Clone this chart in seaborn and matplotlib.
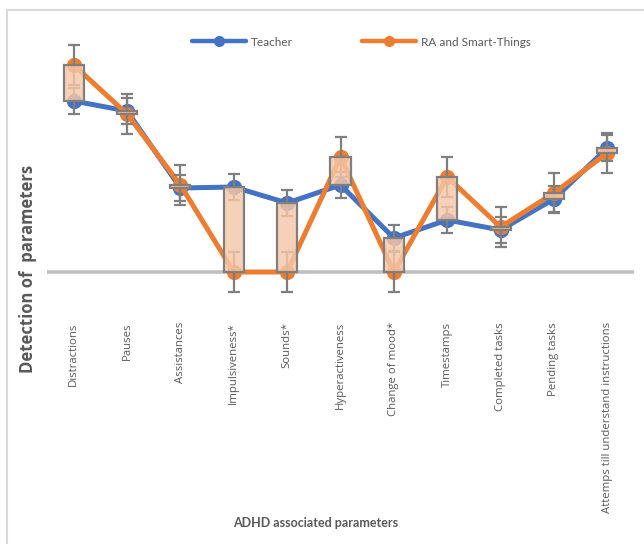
import numpy as np
import pandas as pd
import matplotlib
matplotlib.use("Agg")
import matplotlib.pyplot as plt
import seaborn as sns
from matplotlib.lines import Line2D
from matplotlib.patches import Rectangle

# ---- data -------------------------------------------------------------
categories = [
    "Distractions", "Pauses", "Assistances", "Impulsiveness*", "Sounds*",
    "Hyperactiveness", "Change of mood*", "Timestamps", "Completed tasks",
    "Pending tasks", "Attemps till understand instructions",
]
teacher = [8.55, 8.05, 4.2, 4.25, 3.45, 4.35, 1.7, 2.6, 2.1, 3.65, 6.2]
ra_smart = [10.35, 7.9, 4.35, 0.0, 0.0, 5.75, 0.0, 4.75, 2.25, 3.95, 5.95]
teacher_err = 0.65
ra_smart_err = 1.0
series_names = ["Teacher", "RA and Smart-Things"]

# ---- style ------------------------------------------------------------
BLUE = "#4472C4"
ORANGE = "#ED7D31"
GREY_TXT = "#595959"
GREY_BAR = "#7F7F7F"

sns.set_style("white")
plt.rcParams["font.family"] = ["DejaVu Sans"]

fig = plt.figure(figsize=(6.44, 5.44), dpi=100)
W, H = 644, 544
ax = fig.add_axes([47 / W, 1 - 300 / H, 587 / W, 270 / H])

df = pd.DataFrame({
    "Parameter": categories * 2,
    "Detection": teacher + ra_smart,
    "Source": [series_names[0]] * len(categories) + [series_names[1]] * len(categories),
})

# zero reference line
ax.axhline(0, color="#BFBFBF", lw=2.6, zorder=1)

sns.lineplot(
    data=df, x="Parameter", y="Detection", hue="Source",
    palette={series_names[0]: BLUE, series_names[1]: ORANGE},
    hue_order=series_names, marker="o", markersize=11, markeredgewidth=0,
    linewidth=3.6, sort=False, legend=False, ax=ax, zorder=2,
)

# error bars for both series
ax.errorbar(categories, teacher, yerr=teacher_err, fmt="none", ecolor=GREY_BAR,
            elinewidth=1.6, capsize=4.3, capthick=1.6, zorder=3)
ax.errorbar(categories, ra_smart, yerr=ra_smart_err, fmt="none", ecolor=GREY_BAR,
            elinewidth=1.6, capsize=4.3, capthick=1.6, zorder=3)

# up/down bars between the two series
diff = np.array(ra_smart) - np.array(teacher)
ax.bar(categories, diff, bottom=teacher, width=0.375,
       facecolor=(0.965, 0.78, 0.655, 0.82), edgecolor=GREY_BAR,
       linewidth=1.6, zorder=4)

ax.set_xlim(-0.5, len(categories) - 0.5)
ax.set_ylim(-1.4, 12.1)
ax.set_yticks([])
ax.set_xlabel("")
ax.set_ylabel("")
for s in ax.spines.values():
    s.set_visible(False)
ax.tick_params(axis="x", length=0, pad=16, labelcolor=GREY_TXT)
for lbl in ax.get_xticklabels():
    lbl.set_rotation(90)
    lbl.set_fontfamily("Open Sans")
    lbl.set_fontsize(8.2)

# axis titles
fig.text(28 / W, 1 - 269 / H, "Detection of  parameters", rotation=90,
         ha="center", va="center", fontsize=12, fontweight="bold",
         color=GREY_TXT, family="Open Sans")
fig.text(316 / W, 1 - 523 / H, "ADHD associated parameters", ha="center",
         va="center", fontsize=9, fontweight="bold", color=GREY_TXT,
         family="Lato")

# legend
handles = [
    Line2D([0], [0], color=BLUE, lw=3.2, marker="o", markersize=7),
    Line2D([0], [0], color=ORANGE, lw=3.2, marker="o", markersize=7),
]
fig.legend(handles, series_names, loc="center", bbox_to_anchor=(0.561, 1 - 42 / H),
           ncol=2, frameon=False, handlelength=4.6, columnspacing=5.8,
           handletextpad=0.4, numpoints=1,
           prop={"family": "Lato", "size": 8.5}, labelcolor=GREY_TXT)

# chart area border
fig.add_artist(Rectangle((7 / W, -0.05), 1.0, 1 - 10 / H + 0.05,
                         transform=fig.transFigure, fill=False,
                         edgecolor="#D9D9D9", lw=1.5))

fig.savefig("out.png", dpi=100, facecolor="white")
